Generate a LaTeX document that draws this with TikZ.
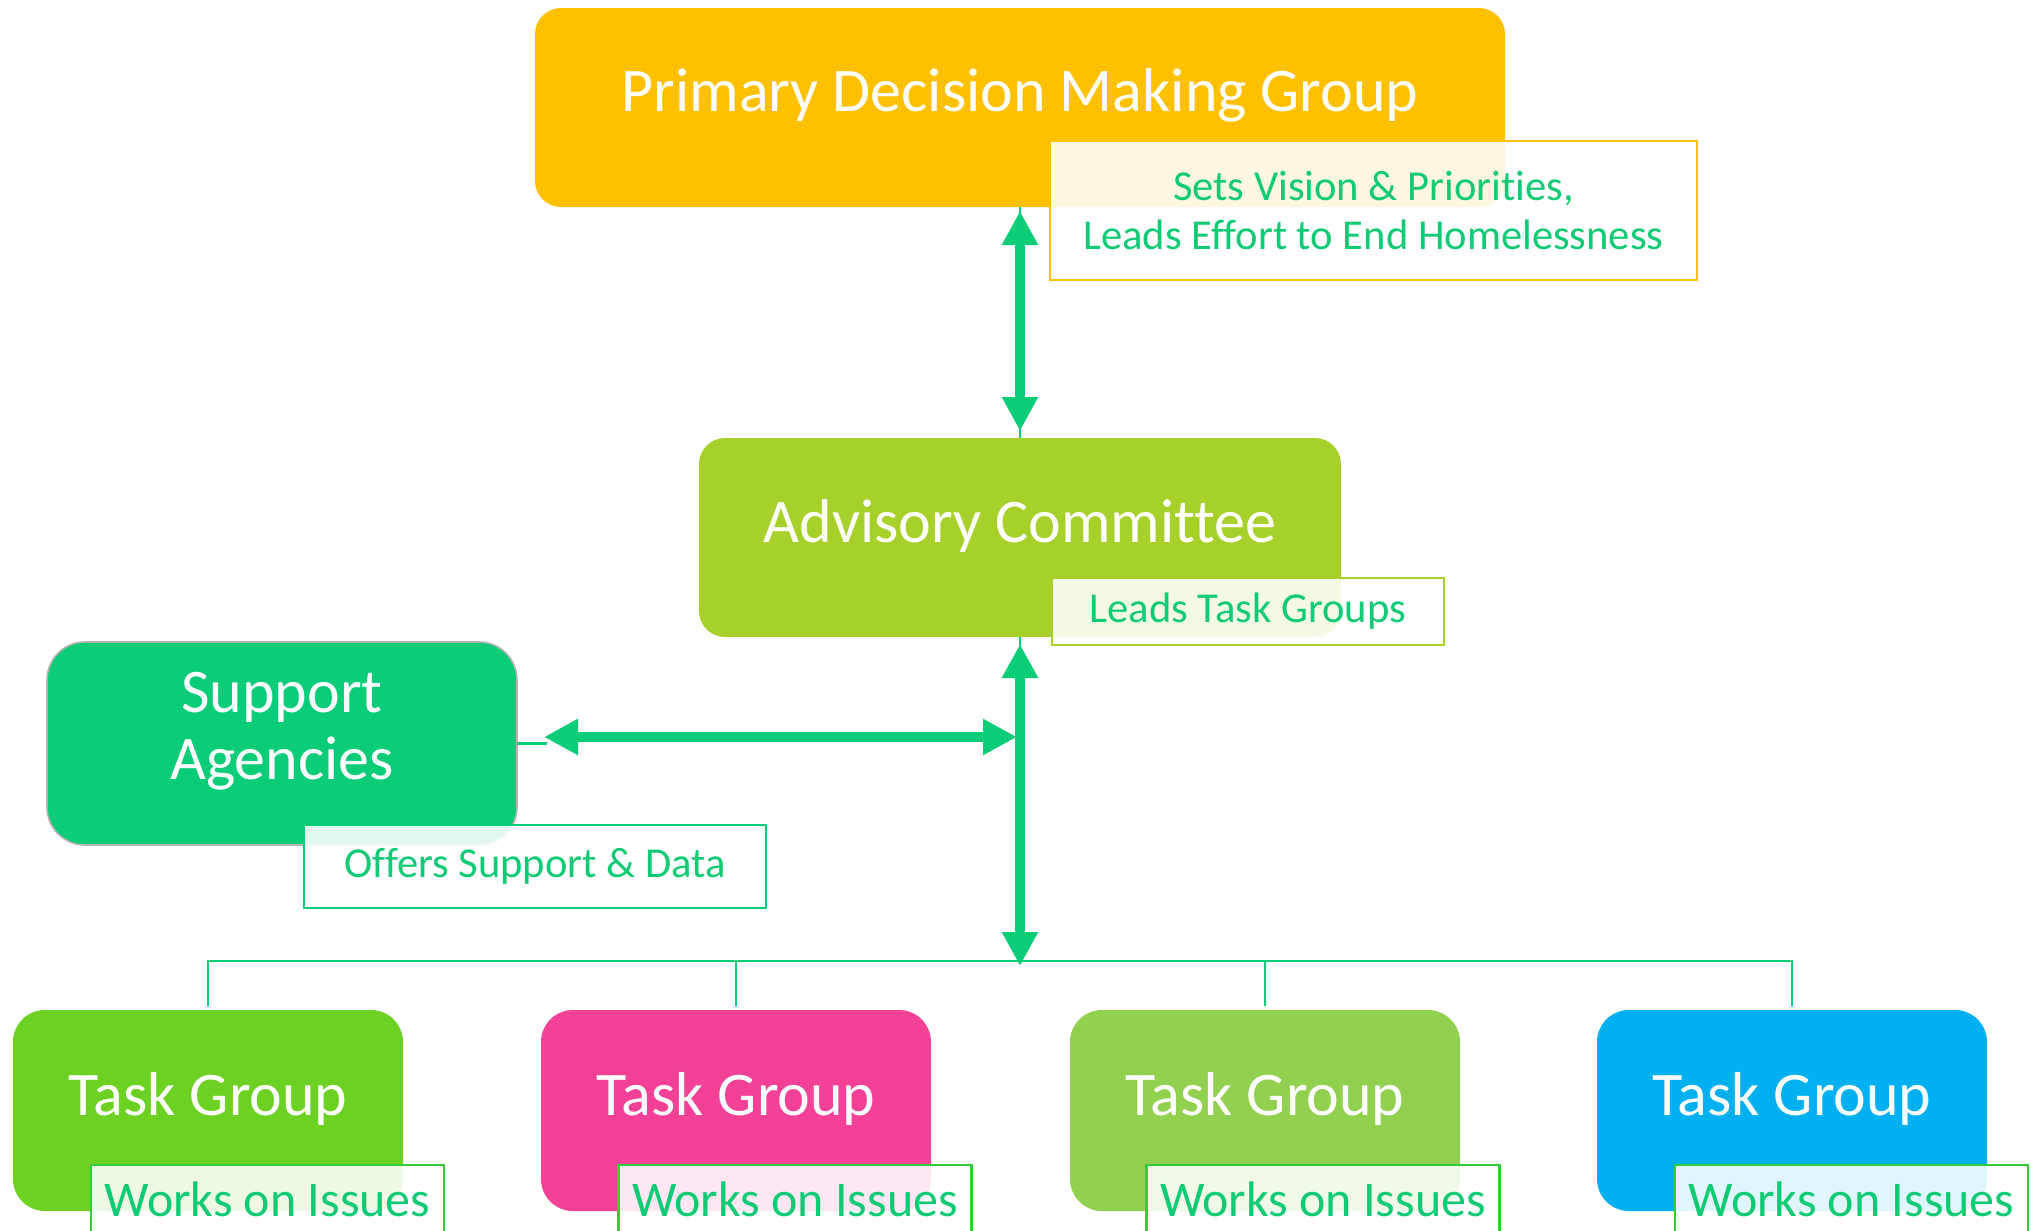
\documentclass[tikz,border=0pt]{standalone}
\usepackage{fontspec}
\setmainfont{Carlito}[Ligatures=NoCommon,RawFeature={-liga;-dlig;-clig}]
\usetikzlibrary{arrows.meta}
\definecolor{primcol}{HTML}{FFC000}
\definecolor{advcol}{HTML}{A6D12A}
\definecolor{supcol}{HTML}{0BCC77}
\definecolor{tgone}{HTML}{6CD123}
\definecolor{tgtwo}{HTML}{F24196}
\definecolor{tgthree}{HTML}{92D050}
\definecolor{tgfour}{HTML}{00B0F0}
\definecolor{txtgreen}{HTML}{10CB74}
\definecolor{linegreen}{HTML}{0BCC77}
\definecolor{workgreen}{HTML}{33CC3A}

\begin{document}
\begin{tikzpicture}[x=0.5pt,y=-0.5pt,
	box/.style={rounded corners=13pt,inner sep=0,outer sep=0},
	tgbox/.style={box,rounded corners=16pt,minimum width=195pt,minimum height=100.5pt},
	title/.style={text=white,inner sep=0,align=center,font=\fontsize{31}{33.5}\selectfont},
	note/.style={draw,line width=1.2pt,fill=white,fill opacity=0.88,text opacity=1,text=txtgreen,inner sep=0,align=center,font=\fontsize{21.3}{24.5}\selectfont},
	worknote/.style={note,draw=workgreen,minimum width=176.5pt,minimum height=34pt,font=\fontsize{25}{28}\selectfont},
	bigarrow/.style={draw=linegreen,line width=5pt,{Triangle[length=17pt,width=17pt]}-{Triangle[length=17pt,width=17pt]}},
	busline/.style={draw=linegreen,line width=1.2pt}]
	\clip (0,0) rectangle (2031,1231);
	\node[box,fill=primcol,minimum width=485pt,minimum height=99.5pt] (prim) at (1020,107.5) {};
	\node[box,fill=advcol,minimum width=321pt,minimum height=99.5pt] (adv) at (1020,537.5) {};
	\node[box,rounded corners=19pt,fill=supcol,draw=gray!60,line width=0.8pt,minimum width=235pt,minimum height=101.5pt] (sup) at (282,743.5) {};
	\node[tgbox,fill=tgone] (tg1) at (208,1110.5) {};
	\node[tgbox,fill=tgtwo] (tg2) at (736,1110.5) {};
	\node[tgbox,fill=tgthree] (tg3) at (1265,1110.5) {};
	\node[tgbox,fill=tgfour] (tg4) at (1792,1110.5) {};
	\node[title] (primtitle) at ([yshift=6pt]prim.center) {Primary Decision Making Group};
	\node[title] (advtitle) at ([yshift=6pt]adv.center) {Advisory Committee};
	\node[title] (suptitle) at ([yshift=6pt]sup.center) {Support\\Agencies};
	\node[title] (tg1title) at ([yshift=6pt]tg1.center) {Task Group};
	\node[title] (tg2title) at ([yshift=6pt]tg2.center) {Task Group};
	\node[title] (tg3title) at ([yshift=6pt]tg3.center) {Task Group};
	\node[title] (tg4title) at ([yshift=6pt]tg4.center) {Task Group};
	\coordinate (hub) at (1020,737);
	\coordinate (bus) at (1020,961);
	\draw[busline] (prim.south) -- (adv.north);
	\draw[busline] (adv.south) -- (bus);
	\draw[busline] (sup.east) -- ++(30,0);
	\draw[busline,shorten <=2pt] (tg1.north) |- (bus);
	\draw[busline,shorten <=2pt] (tg2.north) |- (bus);
	\draw[busline,shorten <=2pt] (tg3.north) |- (bus);
	\draw[busline,shorten <=2pt] (tg4.north) |- (bus);
	\draw[bigarrow] ([yshift=-2pt]prim.south) -- ([yshift=3.5pt]adv.north);
	\draw[bigarrow] ([yshift=-3.5pt]adv.south) -- ([yshift=-2.5pt]bus);
	\draw[bigarrow] ([xshift=13.5pt,yshift=3.25pt]sup.east) -- ([xshift=-1.5pt]hub);
	\node[note,draw=primcol,minimum width=323.5pt,minimum height=69.5pt] (primnote) at (1373.5,210.5) {Sets Vision \& Priorities,\\Leads Effort to End Homelessness};
	\node[note,draw=advcol,minimum width=196pt,minimum height=33.5pt] (advnote) at (1248,611.5) {Leads Task Groups};
	\node[note,draw=supcol,minimum width=231pt,minimum height=41.5pt] (supnote) at (535,866.5) {Offers Support \& Data};
	\node[worknote] (tg1note) at (267.5,1199) {Works on Issues};
	\node[worknote] (tg2note) at (795,1199) {Works on Issues};
	\node[worknote] (tg3note) at (1323,1199) {Works on Issues};
	\node[worknote] (tg4note) at (1851.5,1199) {Works on Issues};
\end{tikzpicture}
\end{document}
